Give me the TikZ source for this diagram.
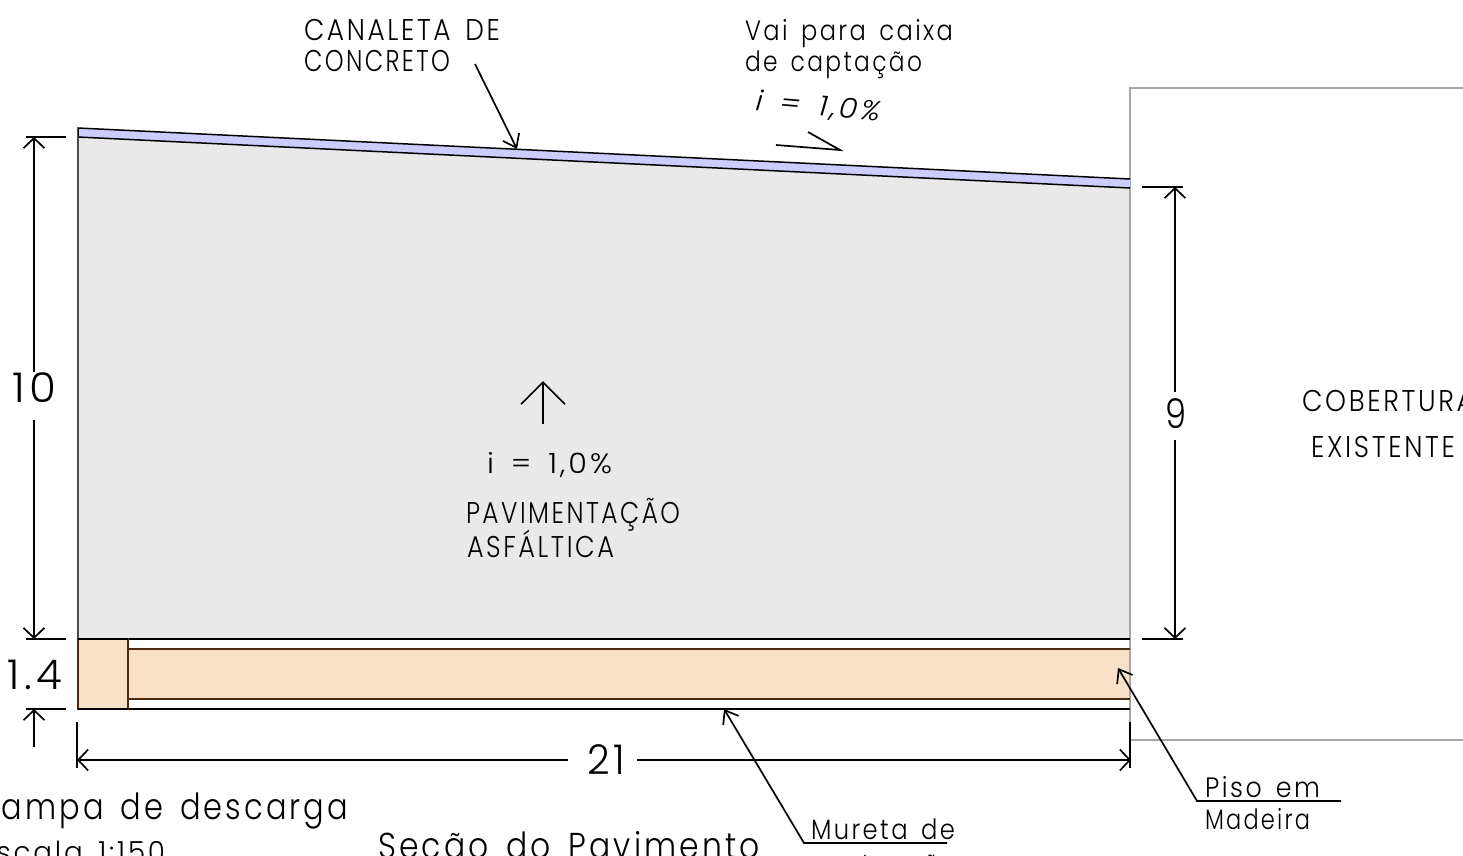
\documentclass[tikz,border=0pt]{standalone}
\usepackage{fontspec}
\usepackage{graphicx}
\usetikzlibrary{arrows.meta}
\newfontfamily\cad[UprightFont=* Light,ItalicFont=* Light Italic,LetterSpace=10,WordSpace=1.5]{Poppins}
\definecolor{pave}{HTML}{E9E9E9}
\definecolor{chan}{HTML}{CCCCFF}
\definecolor{wood}{HTML}{F9E0C8}
\definecolor{woodline}{HTML}{4A2A10}
\definecolor{wall}{HTML}{A6A6A6}
\newsavebox\fitbox
\newcommand\fitw[3]{\sbox\fitbox{\fontsize{#1}{#1}\selectfont\cad #3}\pgfmathsetmacro\fitx{#2/\the\wd\fitbox}\scalebox{\fitx}[1]{\usebox\fitbox}}
\tikzset{
  lbl/.style={anchor=base west,inner sep=0pt,outer sep=0pt,text=black},
  ink/.style={draw=black,line width=1.7pt},
  dimarrow/.style={ink,-{Straight Barb[length=10pt,width=21pt,line width=1.7pt]}},
  leader/.style={ink,-{Straight Barb[length=12pt,width=18pt,line width=1.7pt]}},
  wallline/.style={draw=wall,line width=1.7pt},
  woodbox/.style={fill=wood,draw=woodline,line width=1.5pt}
}
\begin{document}
\begin{tikzpicture}[x=1pt,y=-1pt]
\useasboundingbox (0,0) rectangle (1463,855);
\clip (0,0) rectangle (1463,855);
% areas
\fill[pave] (78,137) -- (1130,188) -- (1130,639) -- (78,639) -- cycle;
\fill[wood] (128,649) rectangle (1130,699);
\draw[wallline] (1463,88) -- (1130,88) -- (1130,740) -- (1463,740);
\draw[line width=1.5pt,fill=chan] (1130,179) -- (78,128) -- (78,137) -- (1130,188);
\draw[ink,line width=1.4pt,draw=black!70] (78,137) -- (78,639);
\draw[ink] (78,639) -- (1130,639);
\draw[ink] (78,709) -- (1130,709);
\draw[woodline,line width=1.5pt] (128,649) -- (1130,649) (128,699) -- (1130,699);
\draw[woodbox] (78,639) rectangle (128,709);
\draw[ink] (78,639) -- (128,639) (78,709) -- (128,709);
% named anchors
\coordinate (d10a) at (34,137); \coordinate (d10b) at (34,639);
\coordinate (d10c) at (34,372); \coordinate (d10d) at (34,420);
\coordinate (d14a) at (34,709); \coordinate (d14b) at (34,747);
\coordinate (d21a) at (77,760); \coordinate (d21b) at (1131,760);
\coordinate (d21c) at (568,760); \coordinate (d21d) at (637,760);
\coordinate (d9a) at (1175,187); \coordinate (d9b) at (1175,639);
\coordinate (d9c) at (1175,392); \coordinate (d9d) at (1175,440);
\coordinate (can0) at (475,64); \coordinate (can1) at (517,149);
\coordinate (mur0) at (947,843); \coordinate (mur1) at (804,843); \coordinate (mur2) at (724,709);
\coordinate (pis0) at (1341,801); \coordinate (pis1) at (1197,801); \coordinate (pis2) at (1118,668);
\coordinate (up0) at (543,424); \coordinate (up1) at (543,381);
% dimensions
\draw[ink] (26,137) -- (66,137) (26,639) -- (66,639) (26,709) -- (66,709);
\draw[ink] (1142,187) -- (1183,187) (1142,639) -- (1183,639);
\draw[ink] (77,722) -- (77,768) (1130,722) -- (1130,768);
\draw[dimarrow] (d10c) -- (d10a);
\draw[dimarrow] (d10d) -- (d10b);
\draw[dimarrow] (d14b) -- (d14a);
\draw[dimarrow] (d21c) -- (d21a);
\draw[dimarrow] (d21d) -- (d21b);
\draw[dimarrow] (d9c) -- (d9a);
\draw[dimarrow] (d9d) -- (d9b);
% leaders
\draw[leader] (can0) -- (can1);
\draw[leader] (mur0) -- (mur1) -- (mur2);
\draw[leader] (pis0) -- (pis1) -- (pis2);
\draw[ink,-{Straight Barb[length=22pt,width=44pt,line width=1.7pt]}] (up0) -- (up1);
\coordinate (sl0) at (776,145); \coordinate (sl1) at (840,150); \coordinate (sl2) at (808,132);
\draw[ink,line join=miter] (sl0) -- (sl1) -- (sl2);
% labels
\node[lbl] (t1) at (304,40) {\fitw{30}{196}{CANALETA DE}};
\node[lbl] (t2) at (304,71) {\fitw{30}{146}{CONCRETO}};
\node[lbl] (t3) at (745,40) {\fitw{28}{208}{Vai para caixa}};
\node[lbl] (t4) at (745,71) {\fitw{28}{177}{de captação}};
\node[lbl,rotate=-5] (t5) at (755,110) {\fitw{28}{125}{\itshape i = 1,0\%}};
\node[lbl] (t6) at (487,473) {\fitw{28}{125}{i = 1,0\%}};
\node[lbl] (t7) at (466,523) {\fitw{30}{214}{PAVIMENTAÇÃO}};
\node[lbl] (t8) at (467,557) {\fitw{30}{147}{ASFÁLTICA}};
\node[lbl] (t9) at (1302,411) {\fitw{30}{172}{COBERTURA}};
\node[lbl] (t10) at (1311,457) {\fitw{30}{144}{EXISTENTE}};
\node[lbl] (t11) at (12,402) {\fitw{41}{44}{10}};
\node[lbl] (t12) at (8,689) {\fitw{41}{54}{1.4}};
\node[lbl] (t13) at (587,774) {\fitw{41}{38}{21}};
\node[lbl] (t14) at (1165,428) {\fitw{41}{21}{9}};
\node[lbl] (t15) at (-19,819) {\fitw{36}{367}{Rampa de descarga}};
\node[lbl] (t16) at (-20,862) {\fitw{29}{185}{Escala 1:150}};
\node[lbl] (t17) at (378,858) {\fitw{36}{382}{Seção do Pavimento}};
\node[lbl] (t18) at (811,839) {\fitw{28}{144}{Mureta de}};
\node[lbl] (t19) at (811,874) {\fitw{28}{145}{contenção}};
\node[lbl] (t20) at (1205,797) {\fitw{28}{115}{Piso em}};
\node[lbl] (t21) at (1205,829) {\fitw{28}{105}{Madeira}};
\end{tikzpicture}
\end{document}
